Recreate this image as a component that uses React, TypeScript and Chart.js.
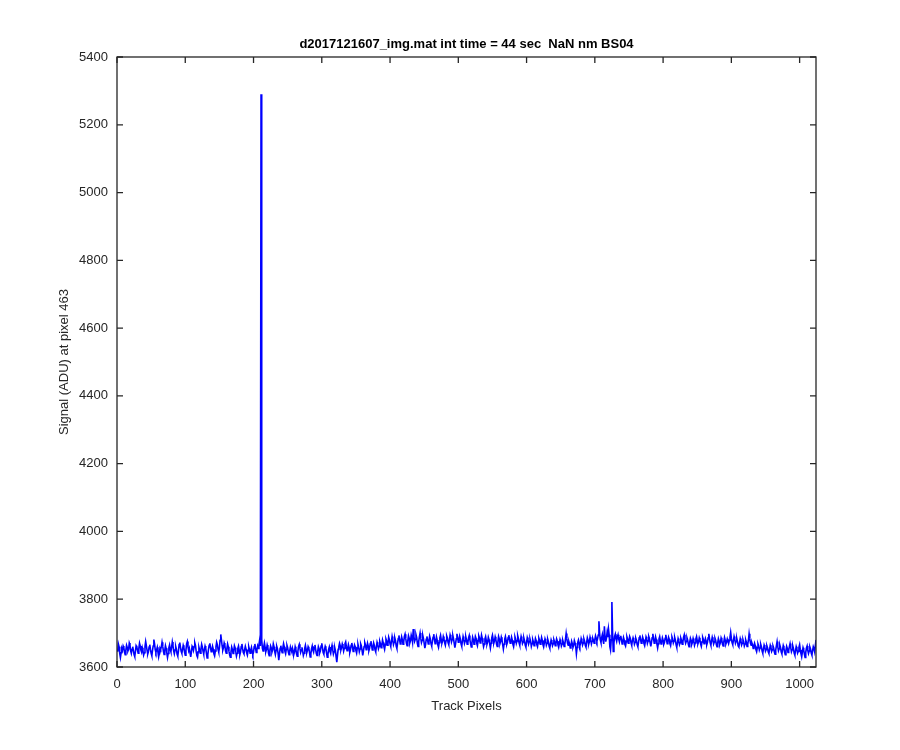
import React, { useEffect, useRef } from "react";
import { Chart, registerables } from "chart.js";
Chart.register(...registerables);

const titleText = "d2017121607_img.mat int time = 44 sec  NaN nm BS04";
const xLabel = "Track Pixels";
const yLabel = "Signal (ADU) at pixel 463";
const xTicks = [0, 100, 200, 300, 400, 500, 600, 700, 800, 900, 1000];
const yTicks = [3600, 3800, 4000, 4200, 4400, 4600, 4800, 5000, 5200, 5400];
const xRange = [0, 1024];
const yRange = [3600, 5400];

const signal = [
  3645,3668,3660,3640,3628,3642,3655,3650,3662,3657,3644,3636,3650,3664,3658,3647,3652,3671,3665,3648,3640,3652,3660,3649,3637,3631,3646,3663,3659,3650,3641,3655,
  3670,3662,3650,3644,3657,3648,3635,3642,3660,3675,3663,3650,3638,3645,3659,3666,3652,3640,3633,3649,3662,3681,3668,3651,3643,3650,3658,3644,3630,3641,3656,3652,
  3660,3673,3661,3646,3637,3649,3663,3655,3641,3628,3640,3657,3665,3652,3645,3659,3674,3662,3648,3639,3650,3661,3653,3638,3632,3647,3666,3672,3658,3646,3640,3652,
  3664,3657,3643,3635,3650,3668,3675,3660,3648,3655,3642,3630,3644,3661,3657,3649,3660,3671,3663,3646,3634,3629,3645,3658,3650,3641,3653,3667,3659,3647,3638,3651,
  3662,3655,3640,3627,3636,3652,3664,3670,3657,3645,3650,3661,3653,3639,3633,3647,3660,3673,3666,3652,3644,3656,3679,3696,3680,3662,3650,3657,3671,3664,3648,3641,
  3655,3668,3660,3647,3636,3629,3645,3659,3652,3640,3648,3663,3657,3644,3632,3641,3655,3662,3650,3637,3645,3660,3668,3654,3643,3639,3651,3661,3653,3642,3635,3648,
  3660,3652,3641,3650,3658,3646,3637,3644,3660,3668,3655,3643,3651,3662,3655,3666,3680,3662,5290,3680,3655,3647,3660,3671,3658,3645,3652,3665,3657,3640,3633,3650,
  3662,3656,3644,3651,3668,3660,3646,3637,3649,3661,3654,3640,3620,3638,3655,3663,3650,3642,3657,3669,3660,3646,3639,3652,3664,3657,3644,3636,3648,3659,3651,3645,
  3656,3648,3637,3645,3660,3652,3639,3632,3646,3661,3667,3655,3643,3650,3658,3647,3634,3641,3655,3664,3653,3642,3649,3660,3655,3643,3630,3639,3654,3662,3650,3644,
  3657,3665,3652,3640,3634,3646,3660,3654,3642,3648,3662,3670,3657,3643,3638,3651,3661,3655,3641,3629,3637,3652,3659,3646,3640,3655,3664,3651,3638,3645,3657,3648,
  3630,3614,3635,3652,3660,3670,3663,3650,3657,3668,3661,3647,3655,3669,3674,3660,3648,3655,3666,3658,3643,3651,3664,3671,3659,3646,3652,3665,3660,3648,3641,3656,
  3667,3658,3645,3653,3668,3662,3649,3634,3647,3660,3672,3665,3651,3657,3670,3662,3648,3655,3669,3676,3663,3650,3658,3671,3664,3651,3645,3660,3673,3666,3654,3661,
  3675,3668,3657,3665,3680,3672,3660,3652,3666,3683,3677,3664,3670,3688,3681,3668,3661,3675,3690,3679,3666,3673,3686,3678,3662,3655,3670,3684,3693,3680,3668,3676,
  3689,3681,3667,3674,3690,3697,3684,3670,3663,3677,3692,3685,3671,3678,3694,3686,3673,3712,3690,3676,3682,3695,3687,3670,3661,3675,3689,3700,3684,3672,3679,3693,
  3684,3670,3656,3666,3682,3690,3679,3668,3676,3691,3683,3669,3662,3674,3688,3697,3682,3669,3676,3689,3680,3665,3658,3672,3686,3694,3681,3670,3677,3690,3683,3671,
  3664,3678,3692,3686,3672,3666,3680,3695,3688,3674,3681,3693,3684,3670,3657,3669,3683,3698,3687,3673,3679,3691,3683,3668,3661,3676,3690,3682,3670,3677,3689,3680,
  3667,3672,3686,3693,3680,3668,3659,3672,3688,3681,3667,3675,3690,3684,3670,3663,3677,3692,3686,3671,3679,3694,3685,3672,3660,3668,3683,3690,3678,3667,3674,3688,
  3681,3668,3656,3670,3686,3694,3682,3670,3677,3689,3681,3668,3661,3675,3690,3683,3669,3676,3688,3680,3666,3653,3667,3682,3690,3679,3667,3673,3687,3694,3681,3670,
  3676,3688,3680,3667,3660,3674,3689,3682,3670,3677,3692,3684,3671,3664,3678,3690,3682,3669,3674,3686,3678,3665,3659,3673,3687,3680,3668,3675,3683,3675,3661,3669,
  3681,3674,3663,3670,3684,3678,3666,3660,3672,3685,3679,3667,3674,3687,3679,3666,3659,3671,3683,3676,3664,3670,3682,3675,3662,3656,3668,3680,3674,3663,3669,3681,
  3675,3663,3670,3683,3677,3665,3658,3669,3681,3674,3662,3668,3679,3672,3661,3666,3682,3699,3684,3670,3664,3675,3668,3656,3662,3676,3669,3658,3664,3678,3671,3660,
  3639,3658,3673,3680,3671,3662,3670,3684,3677,3665,3671,3683,3676,3664,3659,3672,3686,3679,3667,3674,3688,3680,3668,3676,3684,3678,3670,3681,3692,3685,3676,3683,
  3694,3735,3700,3680,3672,3687,3696,3679,3668,3720,3690,3675,3685,3702,3688,3712,3695,3660,3650,3680,3792,3700,3646,3670,3690,3697,3684,3676,3688,3695,3682,3674,
  3686,3692,3681,3668,3674,3687,3680,3667,3662,3675,3689,3682,3670,3677,3690,3684,3671,3664,3678,3686,3679,3667,3673,3685,3679,3666,3660,3672,3686,3693,3681,3670,
  3676,3688,3681,3669,3663,3675,3689,3683,3670,3677,3690,3684,3671,3661,3673,3686,3698,3684,3670,3676,3689,3681,3667,3656,3669,3683,3690,3678,3668,3674,3686,3679,
  3667,3672,3685,3695,3681,3669,3676,3688,3682,3669,3663,3676,3689,3683,3671,3677,3687,3679,3666,3658,3671,3684,3677,3666,3672,3685,3679,3667,3674,3688,3695,3680,
  3670,3676,3686,3679,3667,3660,3673,3685,3679,3667,3673,3684,3676,3664,3671,3683,3690,3678,3668,3674,3686,3680,3668,3661,3674,3687,3681,3669,3675,3684,3677,3666,
  3673,3686,3698,3684,3671,3664,3677,3688,3680,3668,3674,3685,3679,3666,3660,3672,3684,3677,3666,3672,3686,3680,3667,3662,3675,3687,3679,3668,3674,3683,3676,3669,
  3678,3688,3702,3685,3672,3666,3678,3690,3682,3670,3676,3684,3675,3662,3659,3672,3684,3677,3665,3670,3681,3674,3662,3668,3680,3673,3661,3667,3679,3698,3683,3670,
  3664,3672,3666,3655,3661,3670,3663,3651,3645,3657,3668,3662,3650,3656,3667,3660,3648,3641,3653,3665,3659,3647,3652,3663,3657,3645,3640,3652,3664,3658,3646,3651,
  3662,3656,3644,3638,3650,3663,3675,3660,3648,3654,3665,3658,3645,3639,3651,3663,3656,3643,3636,3649,3661,3655,3643,3649,3660,3669,3657,3645,3651,3662,3654,3641,
  3635,3648,3660,3653,3641,3646,3658,3666,3651,3639,3630,3644,3657,3650,3638,3628,3643,3656,3662,3649,3640,3647,3659,3653,3641,3635,3648,3660,3654,3645,3662,3680
];

const FONT = "'Liberation Sans', Arial, Helvetica, sans-serif";
const AXIS_COLOR = "#262626";

export default function App() {
  const ref = useRef<HTMLCanvasElement>(null);

  useEffect(() => {
    if (!ref.current) return;
    const points = signal.map((v, i) => ({ x: i + 1, y: v }));

    const framePlugin = {
      id: "matlabFrame",
      afterDatasetsDraw(chart: any) {
        const { ctx, chartArea } = chart;
        const { left, right, top, bottom } = chartArea;
        const xs = chart.scales.x;
        const ys = chart.scales.y;
        const tl = 6;
        ctx.save();
        ctx.strokeStyle = AXIS_COLOR;
        ctx.lineWidth = 1.3;
        ctx.strokeRect(left, top, right - left, bottom - top);
        ctx.beginPath();
        xTicks.forEach((v) => {
          const px = xs.getPixelForValue(v);
          ctx.moveTo(px, bottom);
          ctx.lineTo(px, bottom - tl);
          ctx.moveTo(px, top);
          ctx.lineTo(px, top + tl);
        });
        yTicks.forEach((v) => {
          const py = ys.getPixelForValue(v);
          ctx.moveTo(left, py);
          ctx.lineTo(left + tl, py);
          ctx.moveTo(right, py);
          ctx.lineTo(right - tl, py);
        });
        ctx.stroke();

        ctx.fillStyle = "#000";
        ctx.textAlign = "center";
        ctx.textBaseline = "middle";
        ctx.font = `bold 13px ${FONT}`;
        ctx.fillText(titleText, (left + right) / 2, top - 13);

        ctx.fillStyle = AXIS_COLOR;
        ctx.font = `13px ${FONT}`;
        ctx.fillText(xLabel, (left + right) / 2, bottom + 39);

        ctx.translate(64, (top + bottom) / 2);
        ctx.rotate(-Math.PI / 2);
        ctx.fillText(yLabel, 0, 0);
        ctx.restore();
      },
    };

    const chart = new Chart(ref.current, {
      type: "line",
      data: {
        datasets: [
          {
            data: points,
            borderColor: "#0000ff",
            borderWidth: 1.6,
            pointRadius: 0,
            tension: 0,
            fill: false,
          },
        ],
      },
      options: {
        animation: false,
        responsive: false,
        maintainAspectRatio: false,
        layout: { padding: { left: 0, right: 84, top: 57, bottom: 0 } },
        plugins: {
          legend: { display: false },
          title: { display: false },
          tooltip: { enabled: false },
        },
        scales: {
          x: {
            type: "linear",
            min: xRange[0],
            max: xRange[1],
            afterBuildTicks: (s: any) => {
              s.ticks = xTicks.map((v) => ({ value: v }));
            },
            afterFit: (s: any) => {
              s.height = 83;
            },
            grid: { display: false, drawTicks: false },
            border: { display: false },
            ticks: {
              font: { family: FONT, size: 13 },
              color: AXIS_COLOR,
              padding: 10,
              maxRotation: 0,
              autoSkip: false,
              callback: (v: any) => String(v),
            },
          },
          y: {
            type: "linear",
            min: yRange[0],
            max: yRange[1],
            afterBuildTicks: (s: any) => {
              s.ticks = yTicks.map((v) => ({ value: v }));
            },
            afterFit: (s: any) => {
              s.width = 117;
            },
            grid: { display: false, drawTicks: false },
            border: { display: false },
            ticks: {
              font: { family: FONT, size: 13 },
              color: AXIS_COLOR,
              padding: 9,
              autoSkip: false,
              callback: (v: any) => String(v),
            },
          },
        },
      },
      plugins: [framePlugin],
    } as any);

    return () => chart.destroy();
  }, []);

  return (
    <div style={{ position: "fixed", left: 0, top: 0, width: 900, height: 750, background: "#fff" }}>
      <canvas ref={ref} width={900} height={750} style={{ display: "block" }} />
    </div>
  );
}
